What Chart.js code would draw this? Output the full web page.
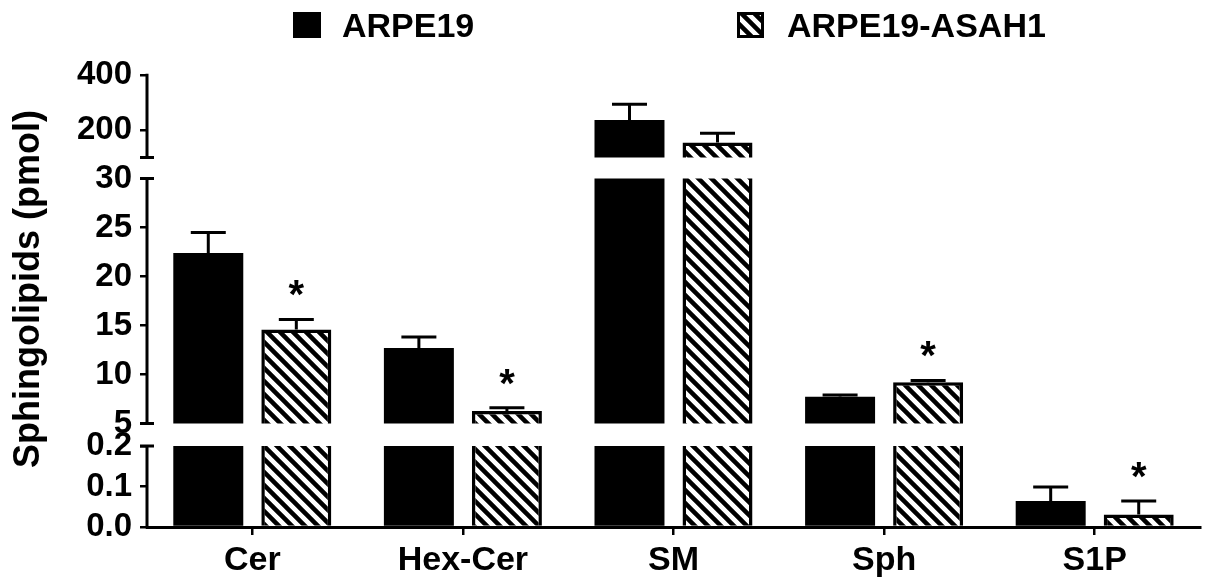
<!DOCTYPE html>
<html>
<head>
<meta charset="utf-8">
<script src="https://cdn.jsdelivr.net/npm/chart.js@4/dist/chart.umd.min.js"></script>
<style>
  html, body { margin: 0; padding: 0; background: #fff; }
  #wrap { width: 1205px; height: 582px; }
</style>
</head>
<body>
<div id="wrap"><canvas id="c" width="1205" height="582"></canvas></div>
<script>
// ---- data ----
const categories = ['Cer', 'Hex-Cer', 'SM', 'Sph', 'S1P'];
const seriesNames = ['ARPE19', 'ARPE19-ASAH1'];
const arpe19Mean = [22.4, 12.7, 236, 7.73, 0.064];
const arpe19Err  = [2.1, 1.13, 58, 0.18, 0.035];
const asah1Mean  = [14.6, 6.28, 155, 9.2, 0.031];
const asah1Err   = [1.02, 0.33, 33, 0.2, 0.033];
const asah1Significant = [true, true, false, true, true];
const axisTitle = 'Sphingolipids (pmol)';

// tick values on each piece of the broken value axis
const ticksUpper  = [200, 400];
const ticksMiddle = [5, 10, 15, 20, 25, 30];
const ticksLower  = [0, 0.1, 0.2];

// ---- broken axis layout: each piece is its own stacked linear scale (top to bottom) ----
const FONT = '"Liberation Sans", Arial, sans-serif';
const segments = [
  { id: 'yUpper',  ticks: ticksUpper,  min: 63.64, max: 400,    shownMin: 100, shownMax: 400, weight: 92.5,  decimals: 0 },
  { id: 'yMiddle', ticks: ticksMiddle, min: 3.83,  max: 31.12,  shownMin: 5,   shownMax: 30,  weight: 267.5, decimals: 0 },
  { id: 'yLower',  ticks: ticksLower,  min: 0,     max: 0.2272, shownMin: 0,   shownMax: 0.2, weight: 92,    decimals: 1 }
];
const segById = {};
segments.forEach(s => { segById[s.id] = s; });

function makeHatch(period, lineW) {
  const c = document.createElement('canvas');
  c.width = c.height = period;
  const g = c.getContext('2d');
  g.fillStyle = '#fff';
  g.fillRect(0, 0, period, period);
  g.strokeStyle = '#000';
  g.lineWidth = lineW;
  g.beginPath();
  for (const off of [-period, 0, period]) {
    g.moveTo(off - 2, -2);
    g.lineTo(off + period + 2, period + 2);
  }
  g.stroke();
  return g.createPattern(c, 'repeat');
}
const hatch = makeHatch(13, 4.5);

const datasets = [];
segments.forEach(seg => {
  datasets.push({
    label: seriesNames[0], data: arpe19Mean, errors: arpe19Err,
    yAxisID: seg.id, stack: 'ctrl',
    backgroundColor: '#000', borderWidth: 0
  });
  datasets.push({
    label: seriesNames[1], data: asah1Mean, errors: asah1Err, marks: asah1Significant,
    yAxisID: seg.id, stack: 'asah1',
    backgroundColor: hatch, borderColor: '#000', borderWidth: 3.5
  });
});

// stacked boxes on the left are laid out bottom-up, so register the lowest piece first
const scales = {};
segments.slice().reverse().forEach(seg => {
  scales[seg.id] = {
    type: 'linear', position: 'left', stack: 'y', stackWeight: seg.weight,
    min: seg.min, max: seg.max,
    afterBuildTicks: s => { s.ticks = seg.ticks.map(v => ({ value: v })); },
    afterFit: s => { s.width = 147; },
    border: { display: false },
    grid: { drawOnChartArea: false, drawTicks: true, tickLength: 7, color: '#000', lineWidth: 2.5 },
    ticks: {
      autoSkip: false, padding: 8, color: '#000',
      font: { family: FONT, size: 33, weight: 'bold' },
      callback: v => Number(v).toFixed(seg.decimals)
    }
  };
});
scales.x = {
  type: 'category', position: 'bottom',
  afterFit: s => { s.height = 55; },
  border: { display: true, color: '#000', width: 3 },
  grid: { offset: false, drawOnChartArea: false, drawTicks: true, tickLength: 8, color: '#000', lineWidth: 2.5 },
  ticks: { padding: 5, color: '#000', font: { family: FONT, size: 34, weight: 'bold' } }
};

// clip every dataset to the visible band of its own axis piece, then add error bars and asterisks
const segmentClip = {
  id: 'segmentClip',
  beforeDatasetDraw(chart, args) {
    const ys = args.meta.yScale, seg = segById[ys.id];
    const top = ys.getPixelForValue(seg.shownMax);
    const bottom = ys.getPixelForValue(seg.shownMin);
    const ctx = chart.ctx;
    ctx.save();
    ctx.beginPath();
    ctx.rect(chart.chartArea.left, top, chart.chartArea.width, bottom - top);
    ctx.clip();
  },
  afterDatasetDraw(chart, args) {
    const ctx = chart.ctx;
    const ds = chart.data.datasets[args.index];
    const ys = args.meta.yScale, seg = segById[ys.id];
    ctx.strokeStyle = '#000';
    ctx.fillStyle = '#000';
    ctx.lineWidth = 3;
    ctx.font = 'bold 40px ' + FONT;
    ctx.textAlign = 'center';
    ctx.textBaseline = 'alphabetic';
    args.meta.data.forEach((bar, i) => {
      const v = ds.data[i], e = ds.errors[i];
      if (v + e < seg.shownMin || v + e > seg.shownMax) return;
      const yTop = ys.getPixelForValue(v);
      const yErr = ys.getPixelForValue(v + e);
      const x = bar.x;
      ctx.beginPath();
      ctx.moveTo(x, yTop);
      ctx.lineTo(x, yErr);
      ctx.moveTo(x - 17.5, yErr);
      ctx.lineTo(x + 17.5, yErr);
      ctx.stroke();
      if (ds.marks && ds.marks[i]) ctx.fillText('*', x, yErr - 11);
    });
    ctx.restore();
  }
};

// axis spine pieces with end caps, axis title and legend
const decorations = {
  id: 'decorations',
  afterDraw(chart) {
    const ctx = chart.ctx;
    const x0 = chart.chartArea.left;
    ctx.save();
    ctx.strokeStyle = '#000';
    ctx.lineWidth = 3;
    segments.forEach((seg, k) => {
      const s = chart.scales[seg.id];
      const top = s.getPixelForValue(seg.shownMax);
      const bottom = s.getPixelForValue(seg.shownMin);
      ctx.beginPath();
      ctx.moveTo(x0, top - 1.25);
      ctx.lineTo(x0, bottom + 1.5);
      if (k > 0) { ctx.moveTo(x0 - 7, top); ctx.lineTo(x0 + 7, top); }
      if (k < segments.length - 1) { ctx.moveTo(x0 - 7, bottom); ctx.lineTo(x0 + 7, bottom); }
      ctx.stroke();
    });

    // value axis title
    ctx.fillStyle = '#000';
    ctx.font = 'bold 36px ' + FONT;
    ctx.save();
    ctx.translate(39, 289);
    ctx.rotate(-Math.PI / 2);
    ctx.textAlign = 'center';
    ctx.textBaseline = 'alphabetic';
    ctx.fillText(axisTitle, 0, 0);
    ctx.restore();

    // legend
    ctx.font = 'bold 34px ' + FONT;
    ctx.textAlign = 'left';
    ctx.textBaseline = 'alphabetic';
    ctx.fillStyle = '#000';
    ctx.fillRect(293, 12, 28, 26);
    ctx.fillText(seriesNames[0], 342, 37);
    ctx.fillStyle = hatch;
    ctx.fillRect(737, 12, 27, 26);
    ctx.lineWidth = 3;
    ctx.strokeRect(738.5, 13.5, 24, 23);
    ctx.fillStyle = '#000';
    ctx.fillText(seriesNames[1], 787, 37);
    ctx.restore();
  }
};

new Chart(document.getElementById('c'), {
  type: 'bar',
  data: { labels: categories, datasets },
  options: {
    responsive: false,
    animation: false,
    events: [],
    devicePixelRatio: 1,
    categoryPercentage: 0.836,
    barPercentage: 0.795,
    layout: { padding: { top: 75, right: 5, bottom: 0, left: 0 } },
    plugins: { legend: { display: false }, tooltip: { enabled: false } },
    scales
  },
  plugins: [segmentClip, decorations]
});
</script>
</body>
</html>
